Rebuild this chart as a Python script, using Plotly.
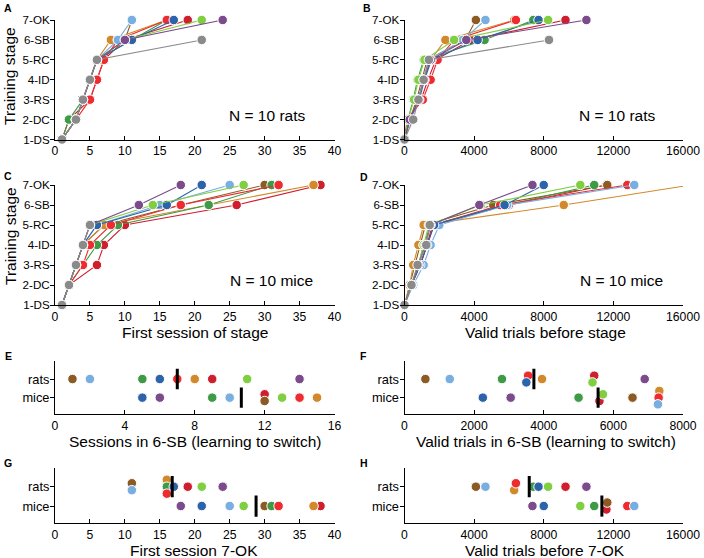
import numpy as np
import plotly.graph_objects as go

W, H = 704, 558
FONT = "Liberation Sans, Arial, Helvetica, sans-serif"

STAGES = ["1-DS", "2-DC", "3-RS", "4-ID", "5-RC", "6-SB", "7-OK"]
ROWS = ["mice", "rats"]

# animal colours (order: dark red, brown, orange, green, red, light blue, blue, light green, purple, grey)
COLORS = ["#cf1f2f", "#8c5a23", "#d2892b", "#3e9a47", "#ee2b2e",
          "#78aee0", "#2d63ab", "#80cf42", "#7b4b8b", "#8a8a8a"]

# ---- Panel A: first session of each stage, rats
RAT_SESSIONS = [
    [1, 2, 5, 6, 7, 10, 19],
    [1, 3, 4, 5, 6, 10, 11],
    [1, 3, 4, 5, 6, 8, 16],
    [1, 2, 4, 5, 6, 11, 16],
    [1, 3, 5, 6, 7, 9, 16],
    [1, 3, 4, 5, 6, 9, 11],
    [1, 3, 4, 5, 6, 11, 17],
    [1, 3, 4, 5, 6, 10, 21],
    [1, 3, 4, 5, 6, 10, 24],
    [1, 3, 4, 5, 6, 21, None],
]
# ---- Panel B: valid trials before each stage, rats
RAT_TRIALS = [
    [0, 250, 950, 1350, 1800, 3800, 9250],
    [0, 300, 700, 1000, 1300, 3500, 4100],
    [0, 300, 800, 1100, 1500, 2350, 6300],
    [0, 200, 500, 750, 1100, 4600, 7400],
    [0, 150, 1050, 1500, 1900, 2850, 6400],
    [0, 350, 800, 1050, 1400, 3350, 4650],
    [0, 300, 850, 1150, 1550, 4200, 7700],
    [0, 200, 550, 800, 1150, 2850, 8250],
    [0, 300, 800, 1100, 1500, 3550, 10450],
    [0, 500, 800, 1100, 1400, 8300, None],
]
# ---- Panel C: first session of each stage, mice
MICE_SESSIONS = [
    [1, 2, 6, 7, 10, 26, 38],
    [1, 2, 3, 4, 7, 18, 30],
    [1, 2, 3, 4, 7, 22, 37],
    [1, 2, 4, 6, 9, 22, 31],
    [1, 2, 4, 5, 8, 18, 32],
    [1, 2, 3, 4, 6, 15, 25],
    [1, 2, 3, 4, 6, 16, 21],
    [1, 2, 3, 4, 5, 14, 27],
    [1, 2, 3, 4, 5, 12, 18],
    [1, 2, 3, 4, 5, None, None],
]
# ---- Panel D: valid trials before each stage, mice
MICE_TRIALS = [
    [0, 400, 900, 1300, 1600, 6000, 11600],
    [0, 300, 600, 900, 1200, 5100, 11650],
    [0, 300, 500, 800, 1100, 9150, 16450],
    [0, 400, 800, 1100, 1500, 5900, 10900],
    [0, 400, 900, 1300, 1700, 5500, 12800],
    [0, 500, 1100, 1500, 2000, 5900, 13200],
    [0, 400, 900, 1300, 1700, 5750, 8000],
    [0, 400, 800, 1100, 1400, 4400, 10100],
    [0, 400, 800, 1200, 1500, 4300, 7350],
    [0, 400, 750, 1250, 1450, None, None],
]

# ---- Panels E-H (animals that reached 7-OK; grey excluded)
RAT_SESSIONS_6SB = [9, 1, 8, 5, 7, 2, 6, 11, 14]
MICE_SESSIONS_6SB = [12, 12, 15, 9, 14, 10, 5, 13, 6]
RAT_TRIALS_6SB = [5450, 600, 3950, 2800, 3550, 1300, 3500, 5400, 6900]
MICE_TRIALS_6SB = [5600, 6550, 7320, 5000, 7300, 7280, 2250, 5700, 3050]
RAT_FIRST_7OK = [19, 11, 16, 16, 16, 11, 17, 21, 24]
MICE_FIRST_7OK = [38, 30, 37, 31, 32, 25, 21, 27, 18]
RAT_TRIALS_7OK = [9250, 4100, 6300, 7400, 6400, 4650, 7700, 8250, 10450]
MICE_TRIALS_7OK = [11600, 11650, 16450, 10900, 12800, 13200, 8000, 10100, 7350]


def px2x(px):
    return px / W


def px2y(py):
    return 1 - py / H


XL = (px2x(55), px2x(334.5))
XR = (px2x(404.5), px2x(683))
Y_AB = (px2y(139.5), px2y(20))
Y_CD = (px2y(305), px2y(185))
Y_EF = (px2y(414), px2y(361))
Y_GH = (px2y(523), px2y(468))

fig = go.Figure()

common = dict(showline=True, linecolor="black", linewidth=1, showgrid=False,
              zeroline=False, ticklen=4, tickwidth=1, tickcolor="black",
              fixedrange=True, automargin=False)

panels = [
    # (idx, xdomain, ydomain, xrange, xtickstep, kind)
    (1, XL, Y_AB, [0, 40], 5, "stage"),
    (2, XR, Y_AB, [0, 16000], 4000, "stage"),
    (3, XL, Y_CD, [0, 40], 5, "stage"),
    (4, XR, Y_CD, [0, 16000], 4000, "stage"),
    (5, XL, Y_EF, [0, 16], 4, "row"),
    (6, XR, Y_EF, [0, 8000], 2000, "row"),
    (7, XL, Y_GH, [0, 40], 5, "row"),
    (8, XR, Y_GH, [0, 16000], 4000, "row"),
]

ROW_RANGE = [-0.88, 1.97]
layout_axes = {}
for idx, xd, yd, xr, step, kind in panels:
    xs = "" if idx == 1 else str(idx)
    layout_axes["xaxis" + xs] = dict(common, domain=list(xd), range=xr, anchor="y" + xs,
                                     ticks="inside", tickformat="d",
                                     tickfont=dict(family=FONT, size=12.2, color="black"),
                                     tickvals=list(np.arange(xr[0], xr[1] + step / 2, step)))
    if kind == "stage":
        layout_axes["yaxis" + xs] = dict(common, domain=list(yd), range=[1, 7], anchor="x" + xs,
                                         ticks="outside", tickvals=list(range(1, 8)),
                                         ticktext=STAGES, ticklabelstandoff=-2,
                                         tickfont=dict(family=FONT, size=11.6, color="black"))
    else:
        layout_axes["yaxis" + xs] = dict(common, domain=list(yd), range=ROW_RANGE, anchor="x" + xs,
                                         ticks="outside", tickvals=[0, 1], ticktext=ROWS,
                                         ticklabelstandoff=-2,
                                         tickfont=dict(family=FONT, size=12.8, color="black"))


def add_curves(data, idx):
    xs = "" if idx == 1 else str(idx)
    for i, row in enumerate(data):
        xv = [v for v in row if v is not None]
        yv = list(range(1, len(xv) + 1))
        fig.add_trace(go.Scatter(
            x=xv, y=yv, mode="lines+markers", xaxis="x" + xs, yaxis="y" + xs,
            line=dict(color=COLORS[i], width=1.1),
            marker=dict(color=COLORS[i], size=9.5, line=dict(color="white", width=1)),
            cliponaxis=False, hoverinfo="skip"))


add_curves(RAT_SESSIONS, 1)
add_curves(RAT_TRIALS, 2)
add_curves(MICE_SESSIONS, 3)
add_curves(MICE_TRIALS, 4)


def stacked_offsets(values, xrange, spacing=0.36, gap_px=4.0):
    """Vertical offsets for dots that would overlap horizontally."""
    pxu = (XL[1] - XL[0]) * W / (xrange[1] - xrange[0])
    order = sorted(range(len(values)), key=lambda k: values[k])
    groups, cur = [], [order[0]]
    for a, b in zip(order[:-1], order[1:]):
        if (values[b] - values[a]) * pxu < gap_px:
            cur.append(b)
        else:
            groups.append(cur)
            cur = [b]
    groups.append(cur)
    off = [0.0] * len(values)
    for g in groups:
        g = sorted(g, key=lambda k: (-values[k], k))
        n = len(g)
        for r, k in enumerate(g):
            off[k] = ((n - 1) / 2 - r) * spacing
    return off


def add_rows(rat_vals, mice_vals, idx, xrange):
    xs = str(idx)
    for base, vals in ((1, rat_vals), (0, mice_vals)):
        off = stacked_offsets(vals, xrange)
        fig.add_trace(go.Scatter(
            x=vals, y=[base + o for o in off], mode="markers", xaxis="x" + xs, yaxis="y" + xs,
            marker=dict(color=COLORS[:len(vals)], size=9.5, line=dict(color="white", width=1)),
            cliponaxis=False, hoverinfo="skip"))
    for base, vals in ((1, rat_vals), (0, mice_vals)):
        m = float(np.mean(vals))
        fig.add_trace(go.Scatter(
            x=[m, m], y=[base - 0.55, base + 0.55], mode="lines", xaxis="x" + xs, yaxis="y" + xs,
            line=dict(color="black", width=3), cliponaxis=False, hoverinfo="skip"))


add_rows(RAT_SESSIONS_6SB, MICE_SESSIONS_6SB, 5, [0, 16])
add_rows(RAT_TRIALS_6SB, MICE_TRIALS_6SB, 6, [0, 8000])
add_rows(RAT_FIRST_7OK, MICE_FIRST_7OK, 7, [0, 40])
add_rows(RAT_TRIALS_7OK, MICE_TRIALS_7OK, 8, [0, 16000])

annotations = []


def ann(text, px, py, size=15.5, xanchor="center", bold=False, angle=0):
    annotations.append(dict(
        text=("<b>%s</b>" % text) if bold else text, x=px2x(px), y=px2y(py),
        xref="paper", yref="paper", xanchor=xanchor, yanchor="middle",
        showarrow=False, textangle=angle,
        font=dict(family=FONT, size=size, color="black")))


for letter, px, py in [("A", 2, 8), ("B", 361, 8), ("C", 2, 176), ("D", 358, 177),
                       ("E", 3, 356), ("F", 358, 356), ("G", 2, 463), ("H", 358, 463)]:
    ann(letter, px, py, size=10.5, xanchor="left", bold=True)

ann("Training stage", 10, 76, angle=-90)
ann("Training stage", 10, 236, angle=-90)
ann("N = 10 rats", 267, 116)
ann("N = 10 rats", 617, 116)
ann("N = 10 mice", 271, 280)
ann("N = 10 mice", 621, 280)
ann("First session of stage", 195, 332)
ann("Valid trials before stage", 545, 332)
ann("Sessions in 6-SB (learning to switch)", 195, 441)
ann("Valid trials in 6-SB (learning to switch)", 546, 441)
ann("First session 7-OK", 194, 550)
ann("Valid trials before 7-OK", 545, 550)

fig.update_layout(
    template="none",
    width=W, height=H, margin=dict(l=0, r=0, t=0, b=0, autoexpand=False),
    paper_bgcolor="white", plot_bgcolor="white", showlegend=False,
    font=dict(family=FONT, color="black"),
    annotations=annotations, **layout_axes)

fig.write_html("out.html",
               config={"displayModeBar": False, "staticPlot": True},
               post_script="document.body.style.margin='0';document.body.style.padding='0';"
                           "document.body.style.overflow='hidden';")
